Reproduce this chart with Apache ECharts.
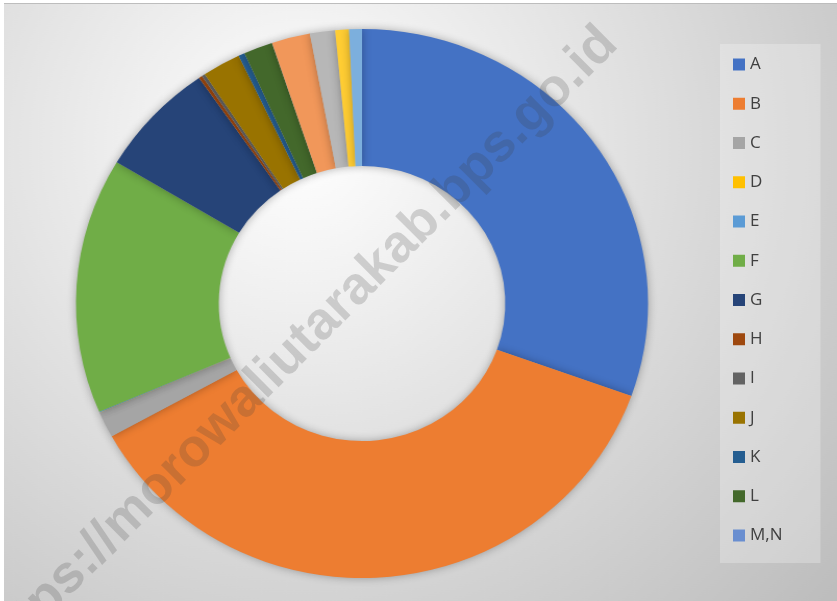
<!DOCTYPE html>
<html>
<head>
<meta charset="utf-8">
<script src="https://cdn.jsdelivr.net/npm/echarts@6/dist/echarts.min.js"></script>
<style>
  html, body { margin: 0; padding: 0; background: #fff; }
  #frame { position: absolute; left: 4px; top: 3px; width: 833px; height: 597px; border-top: 1px solid #bdbdbd; overflow: hidden; }
  /* the reference ring is slightly wider than tall, so the pie layer is stretched a little */
  #ring { position: absolute; left: 0; top: 0; width: 833px; height: 597px; transform-origin: 358px 300px; transform: scaleX(1.042); }
  #over { position: absolute; left: 0; top: 0; width: 833px; height: 597px; }
</style>
</head>
<body>
<div id="frame">
  <div id="ring"></div>
  <div id="over"></div>
</div>
<script>
const categories = ['A', 'B', 'C', 'D', 'E', 'F', 'G', 'H', 'I', 'J', 'K', 'L', 'M,N', 'O', 'P', 'Q', 'R,S,T,U'];
const shares = [30.47, 36.50, 1.53, 0.01, 0.04, 15.06, 6.75, 0.19, 0.19, 2.17, 0.36, 1.64, 0.01, 2.17, 1.42, 0.78, 0.72];
// the legend box only has room for the first 13 entries
const legendNames = categories.slice(0, 13);
const colors = ['#4472C4', '#ED7D31', '#A5A5A5', '#FFC000', '#5B9BD5', '#70AD47', '#264478', '#9E480E',
  '#636363', '#997300', '#255E91', '#43682B', '#698ED0', '#F1975A', '#B7B7B7', '#FFCD33', '#7CAFDD'];
const watermark = 'https://morowaliutarakab.bps.go.id';

const ring = echarts.init(document.getElementById('ring'));
ring.setOption({
  animation: false,
  backgroundColor: new echarts.graphic.RadialGradient(300, 142, 680, [
    { offset: 0, color: '#ffffff' },
    { offset: 1, color: '#bdbdbd' },
  ], true),
  color: colors,
  series: [{
    type: 'pie',
    center: [358, 299.5],
    radius: [137.5, 274.5],
    startAngle: 90,
    clockwise: true,
    avoidLabelOverlap: false,
    label: { show: false },
    labelLine: { show: false },
    itemStyle: { borderWidth: 0, shadowBlur: 8, shadowColor: 'rgba(0,0,0,0.3)' },
    emphasis: { disabled: true },
    data: categories.map((name, i) => ({ name, value: shares[i] })),
  }],
});

// legend + watermark on a transparent layer so they are not stretched
const over = echarts.init(document.getElementById('over'));
over.setOption({
  animation: false,
  backgroundColor: 'transparent',
  color: colors,
  legend: {
    data: legendNames,
    orient: 'vertical',
    left: 716, top: 40,
    padding: [12, 38, 19, 13],
    itemGap: 22.25,
    itemWidth: 12, itemHeight: 12,
    icon: 'rect',
    itemStyle: { opacity: 1 },
    backgroundColor: 'rgba(255,255,255,0.25)',
    textStyle: { color: '#404040', fontSize: 17, lineHeight: 17, fontFamily: 'Open Sans' },
    selectedMode: false,
  },
  // invisible copy of the series so the legend gets its entries and colours
  series: [{
    type: 'pie',
    center: [358, 299.5],
    radius: [0, 1],
    silent: true,
    label: { show: false },
    labelLine: { show: false },
    itemStyle: { opacity: 0 },
    data: categories.map((name, i) => ({ name, value: shares[i] })),
  }],
  graphic: [{
    type: 'text',
    x: 294, y: 343,
    rotation: Math.PI / 4,
    z: 100,
    silent: true,
    style: {
      text: watermark,
      font: 'bold 53px "Liberation Sans"',
      fill: 'rgba(60,60,60,0.2)',
      align: 'center',
      verticalAlign: 'middle',
    },
  }],
});
</script>
</body>
</html>
